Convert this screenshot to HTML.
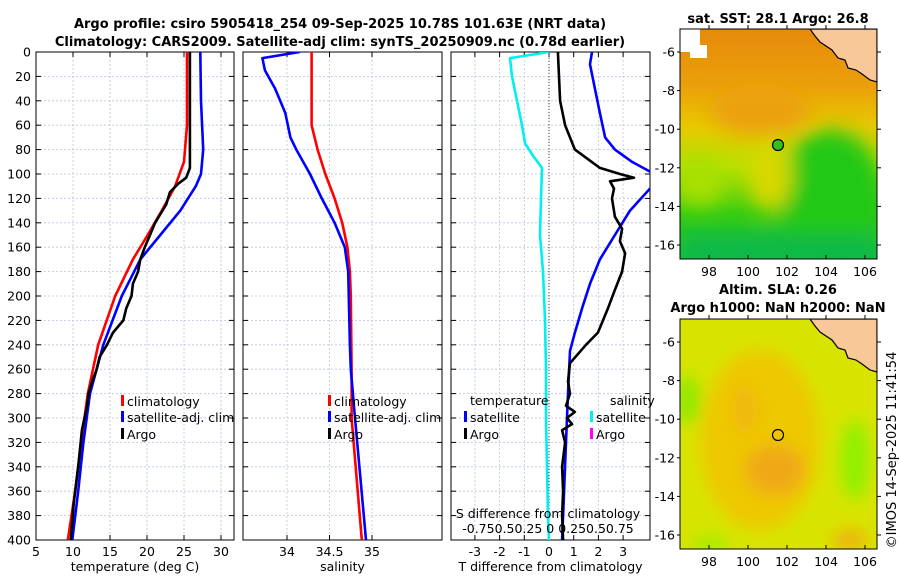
<!DOCTYPE html>
<html><head><meta charset="utf-8">
<style>
body{margin:0;background:#fff;}
svg{display:block;font-family:"DejaVu Sans","Liberation Sans",sans-serif;}
</style></head>
<body>
<svg id="fig" width="900" height="580" viewBox="0 0 900 580" xmlns="http://www.w3.org/2000/svg">
<defs>
<filter id="blur1" x="-20%" y="-20%" width="140%" height="140%"><feGaussianBlur stdDeviation="10"/></filter>
<filter id="blur2" x="-20%" y="-20%" width="140%" height="140%"><feGaussianBlur stdDeviation="8"/></filter>
<clipPath id="cm1"><rect x="680" y="29" width="197" height="230"/></clipPath>
<clipPath id="cm2"><rect x="680" y="319" width="197" height="230"/></clipPath>
<linearGradient id="g1" x1="0" y1="0" x2="0" y2="1">
<stop offset="0" stop-color="#e68a0a"/><stop offset="0.25" stop-color="#eba00a"/>
<stop offset="0.42" stop-color="#e8c800"/><stop offset="0.6" stop-color="#b8e000"/>
<stop offset="0.8" stop-color="#38cc10"/><stop offset="1" stop-color="#10c040"/></linearGradient>
</defs>
<text x="340" y="28" text-anchor="middle" font-size="13" font-weight="bold">Argo profile: csiro 5905418_254 09-Sep-2025 10.78S 101.63E (NRT data)</text>
<text x="340" y="46" text-anchor="middle" font-size="13" font-weight="bold">Climatology: CARS2009. Satellite-adj clim: synTS_20250909.nc (0.78d earlier)</text>
<g id="panels"></g>

<g>
<text x="778" y="23" text-anchor="middle" font-size="13" font-weight="bold">sat. SST: 28.1 Argo: 26.8</text>
<g clip-path="url(#cm1)">
<rect x="680" y="29" width="197" height="230" fill="url(#g1)"/>
<g filter="url(#blur1)">
<ellipse cx="830" cy="200" rx="55" ry="70" fill="#20c818"/>
<ellipse cx="770" cy="175" rx="22" ry="35" fill="#d8d800"/>
<ellipse cx="700" cy="180" rx="25" ry="25" fill="#a8e000"/>
<ellipse cx="760" cy="110" rx="50" ry="25" fill="#eba00a"/>
<rect x="680" y="235" width="197" height="30" fill="#10b848"/>
</g>
<polygon points="680,29 700,29 700,45 707,45 707,58 690,58 690,52 680,52" fill="#fff"/>
<polygon points="810,29 877,29 877,82 870,80 862,74 856,70 848,68 845,60 838,58 832,50 826,46 820,42 815,36" fill="#f8c898" stroke="#000" stroke-width="1.2"/>
</g>
<circle cx="778" cy="145" r="5.5" fill="#30c020" stroke="#000" stroke-width="1.2"/>
<g id="map1ax"></g>
</g>
<g>
<text x="778" y="294" text-anchor="middle" font-size="13" font-weight="bold">Altim. SLA: 0.26</text>
<text x="778" y="312" text-anchor="middle" font-size="13" font-weight="bold">Argo h1000: NaN h2000: NaN</text>
<g clip-path="url(#cm2)">
<rect x="680" y="319" width="197" height="230" fill="#d8e400"/>
<g filter="url(#blur2)">
<ellipse cx="760" cy="440" rx="60" ry="90" fill="#eec800"/>
<ellipse cx="775" cy="470" rx="30" ry="25" fill="#f0a818"/>
<ellipse cx="745" cy="410" rx="12" ry="25" fill="#f0b810"/>
<ellipse cx="855" cy="460" rx="14" ry="40" fill="#8ef000"/>
<ellipse cx="688" cy="400" rx="12" ry="25" fill="#8ee800"/>
<ellipse cx="710" cy="545" rx="20" ry="10" fill="#a8ec00"/>
<ellipse cx="850" cy="540" rx="18" ry="10" fill="#f0b010"/>
</g>
<polygon points="810,319 877,319 877,372 870,370 862,364 856,360 848,358 845,350 838,348 832,340 826,336 820,332 815,326" fill="#f8c898" stroke="#000" stroke-width="1.2"/>
</g>
<circle cx="778" cy="435" r="5.5" fill="none" stroke="#000" stroke-width="1.2"/>
<g id="map2ax"></g>
</g>
<text transform="translate(896,450) rotate(-90)" text-anchor="middle" font-size="13">©IMOS 14-Sep-2025 11:41:54</text>
</svg>
<script>
// ---------- data ----------
const depths_tclim=[0,60,90,110,130,150,170,200,240,280,320,360,400];
const tclim=[25.4,25.4,25.0,23.8,22.0,20.1,18.1,15.7,13.4,12.0,11.1,10.3,9.3];
const depths_tsat=[0,40,80,100,110,130,150,170,200,240,280,320,360,400];
const tsat=[27.2,27.3,27.6,27.3,26.6,24.5,21.8,19.1,16.6,14.1,12.3,11.4,10.7,9.9];
const depths_targo=[0,95,103,108,115,125,140,150,160,170,180,190,200,210,220,230,240,250,260,270,280,290,310,340,370,400];
const targo=[25.8,25.8,25.3,24.2,23.1,22.6,21.1,20.4,19.7,19.1,18.8,18.1,17.9,17.2,16.8,15.4,14.6,13.6,13.2,12.6,12.1,11.9,11.2,10.7,10.1,9.7];
const depths_sclim=[0,60,80,100,120,140,160,180,200,260,300,400];
const sclim=[34.29,34.29,34.36,34.45,34.56,34.65,34.71,34.74,34.75,34.76,34.76,34.88];
const depths_ssat=[0,5,15,30,50,70,80,100,120,140,160,180,240,260,300,400];
const ssat=[34.15,33.71,33.74,33.86,33.98,34.04,34.11,34.27,34.41,34.56,34.68,34.72,34.74,34.75,34.8,34.93];
const depths_dtargo=[0,40,60,80,95,100,103,106,112,120,135,145,155,165,180,195,210,230,240,255,270,280,290,295,300,305,310,320,340,360,380,400];
const dtargo=[0.36,0.45,0.65,1.05,2.06,2.87,3.44,2.47,2.63,2.55,2.67,2.96,2.87,3.08,2.96,2.67,2.39,1.98,1.5,0.85,0.77,0.85,0.69,1.05,0.73,0.93,0.53,0.65,0.53,0.57,0.53,0.57];
const depths_dtsat=[0,10,30,50,70,80,90,98,104,112,130,150,170,190,210,230,245,280,320,360,400];
const dtsat=[1.74,1.66,1.86,2.06,2.27,2.67,3.36,4.09,4.6,4.09,3.28,2.67,2.06,1.66,1.34,1.05,0.85,0.77,0.69,0.61,0.53];
const depths_dssat=[0,5,20,40,60,75,85,95,120,150,180,220,260,300,340,380,400];
const dssat=[0,-0.375,-0.356,-0.308,-0.26,-0.23,-0.154,-0.067,-0.077,-0.087,-0.058,-0.038,-0.029,-0.029,-0.019,-0.01,0];
const depthTicks=[0,20,40,60,80,100,120,140,160,180,200,220,240,260,280,300,320,340,360,380,400];
const tTicks=[5,10,15,20,25,30];
const sTicks=[34,34.5,35];
const dTicks=[-3,-2,-1,0,1,2,3];
const lonTicks=[98,100,102,104,106];
const latTicks=[-6,-8,-10,-12,-14,-16];
// ---------- helpers ----------
const NS="http://www.w3.org/2000/svg";
const Y0=52,Y1=540;
const yD=d=>Y0+(d/400)*(Y1-Y0);
function mk(tag,attrs,parent){const e=document.createElementNS(NS,tag);for(const k in attrs)e.setAttribute(k,attrs[k]);parent.appendChild(e);return e;}
const root=document.getElementById('panels');
const panels=[
 {name:'temperature',x0:36,x1:234,xv:v=>36+(v-5)*7.4,ticks:tTicks,label:'temperature (deg C)',ylab:true},
 {name:'salinity',x0:243,x1:442,xv:v=>287+(v-34)*85,ticks:sTicks,label:'salinity'},
 {name:'difference',x0:451,x1:650,xv:v=>549+v*24.7,ticks:dTicks,label:'T difference from climatology'}
];
panels.forEach((p,i)=>{
 const g=mk('g',{},root);
 
 
 const cid='cp'+i;
 const cp=mk('clipPath',{id:cid},g);mk('rect',{x:p.x0,y:Y0,width:p.x1-p.x0,height:Y1-Y0},cp);
 depthTicks.forEach(d=>{
  const l=mk('line',{x1:p.x0,x2:p.x1,y1:yD(d),y2:yD(d),stroke:'#b8c4e0','stroke-width':0.8,'stroke-dasharray':'2,2'},g);
  
  
  mk('line',{x1:p.x0,x2:p.x0+5,y1:yD(d),y2:yD(d),stroke:'#000'},g);
  mk('line',{x1:p.x1,x2:p.x1-5,y1:yD(d),y2:yD(d),stroke:'#000'},g);
  if(p.ylab){const t=mk('text',{x:p.x0-5,y:yD(d)+4.5,'text-anchor':'end','font-size':12.5},g);t.textContent=d;
   
   }
 });
 p.ticks.forEach(v=>{
  const x=p.xv(v);
  const l=mk('line',{x1:x,x2:x,y1:Y0,y2:Y1,stroke:'#b8c4e0','stroke-width':0.8,'stroke-dasharray':'2,2'},g);
  
  
  mk('line',{x1:x,x2:x,y1:Y1,y2:Y1-5,stroke:'#000'},g);
  mk('line',{x1:x,x2:x,y1:Y0,y2:Y0+5,stroke:'#000'},g);
  const t=mk('text',{x:x,y:Y1+16,'text-anchor':'middle','font-size':12.5},g);t.textContent=v;
  
  
 });
 mk('rect',{x:p.x0,y:Y0,width:p.x1-p.x0,height:Y1-Y0,fill:'none',stroke:'#000','stroke-width':1},g);
 const t=mk('text',{x:(p.x0+p.x1)/2,y:571,'text-anchor':'middle','font-size':12.5},g);t.textContent=p.label;
 
 
 p.g=g;p.cid=cid;
});
function line(p,ds,vs,xf,col,name){
 const pts=ds.map((d,i)=>xf(vs[i]).toFixed(1)+','+yD(d).toFixed(1)).join(' ');
 const e=mk('polyline',{points:pts,fill:'none',stroke:col,'stroke-width':2.6,'stroke-linejoin':'round','clip-path':'url(#'+p.cid+')'},p.g);
 
 
}
const P=panels;
line(P[0],depths_tclim,tclim,P[0].xv,'#f00','temp-climatology-line');
line(P[0],depths_tsat,tsat,P[0].xv,'#00f','temp-satellite-line');
line(P[0],depths_targo,targo,P[0].xv,'#000','temp-argo-line');
line(P[1],depths_sclim,sclim,P[1].xv,'#f00','sal-climatology-line');
line(P[1],depths_ssat,ssat,P[1].xv,'#00f','sal-satellite-line');
const zl=mk('line',{x1:549,x2:549,y1:Y0,y2:Y1,stroke:'#444','stroke-dasharray':'1,2'},P[2].g);


const sx=v=>549+v*104;
line(P[2],depths_dssat,dssat,sx,'#00f0f0','sal-diff-satellite-line');
line(P[2],depths_dtsat,dtsat,P[2].xv,'#00f','temp-diff-satellite-line');
line(P[2],depths_dtargo,dtargo,P[2].xv,'#000','temp-diff-argo-line');
function txt(g,x,y,s,name,anchor){const t=mk('text',{x:x,y:y,'font-size':12.5,'text-anchor':anchor||'start'},g);t.textContent=s;
 return t;}
function leg(g,x,y,col,s,name){mk('rect',{x:x,y:y-11,width:3,height:11,fill:col},g);const t=txt(g,x+6,y,s,name);}
[[P[0],121],[P[1],328]].forEach(([p,x])=>{
 leg(p.g,x,406,'#f00','climatology','legend-climatology');
 leg(p.g,x,422,'#00f','satellite-adj. clim','legend-satellite');
 leg(p.g,x,439,'#000','Argo','legend-argo');
});
txt(P[2].g,470,405,'temperature','legend-temperature-header');
leg(P[2].g,464,422,'#00f','satellite','legend-t-satellite');
leg(P[2].g,464,439,'#000','Argo','legend-t-argo');
txt(P[2].g,610,405,'salinity','legend-salinity-header');
leg(P[2].g,590,422,'#00f0f0','satellite','legend-s-satellite');
leg(P[2].g,590,439,'#f0f','Argo','legend-s-argo');
txt(P[2].g,548,518,'S difference from climatology','s-axis-title','middle');
txt(P[2].g,548,533,'-0.750.50.25 0 0.250.50.75','s-axis-tick-labels','middle');
function mapAx(id,y0,name){
 const g=document.getElementById(id);
 mk('rect',{x:680,y:y0,width:197,height:230,fill:'none',stroke:'#000'},g);
 lonTicks.forEach(v=>{const x=787+(v-102)*19.5;
  mk('line',{x1:x,x2:x,y1:y0+230,y2:y0+226,stroke:'#000'},g);
  mk('line',{x1:x,x2:x,y1:y0,y2:y0-4,stroke:'#000'},g);
  txt(g,x,y0+247,v,name+'-lon-label','middle');});
 latTicks.forEach(v=>{const y=y0+23+(-6-v)*19.3;
  mk('line',{x1:677,x2:680,y1:y,y2:y,stroke:'#000'},g);
  mk('line',{x1:877,x2:881,y1:y,y2:y,stroke:'#000'},g);
  txt(g,675,y+4.5,v,name+'-lat-label','end');});
}
mapAx('map1ax',29,'sst-map');
mapAx('map2ax',319,'sla-map');
</script>
</body></html>
